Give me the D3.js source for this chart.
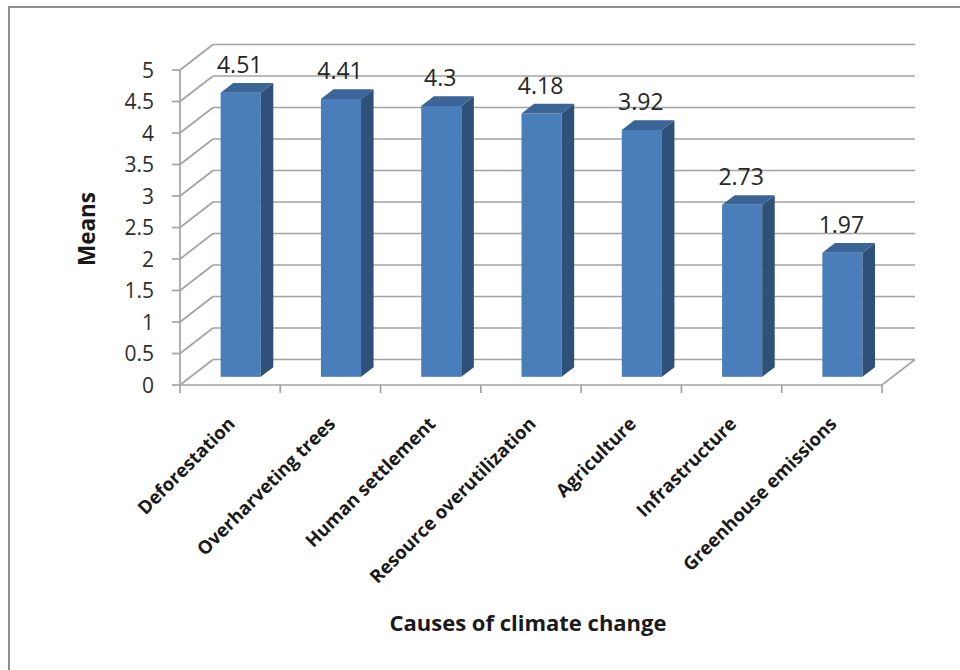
<!DOCTYPE html>
<html>
<head>
<meta charset="utf-8">
<script src="https://cdn.jsdelivr.net/npm/d3@7/dist/d3.min.js"></script>
<style>
  html, body { margin: 0; padding: 0; background: #fff; }
  svg { display: block; }
  text { font-family: "Open Sans", "DejaVu Sans", sans-serif; }
</style>
</head>
<body>
<svg id="chart" width="960" height="670"></svg>
<script>
// Mean scores for each cause of climate change
const categories = [
  "Deforestation",
  "Overharveting trees",
  "Human settlement",
  "Resource overutilization",
  "Agriculture",
  "Infrastructure",
  "Greenhouse emissions"
];
const means = [4.51, 4.41, 4.3, 4.18, 3.92, 2.73, 1.97];
const yTicks = [0, 0.5, 1, 1.5, 2, 2.5, 3, 3.5, 4, 4.5, 5];
const yTitle = "Means";
const xTitle = "Causes of climate change";

const svg = d3.select("#chart");

// Plot box (front plane) and 3D depth offset
const plot = { left: 180, right: 882, top: 70, bottom: 385 };
const depth = { dx: 33, dy: -25.5 };
// Bars sit inside the depth: front face at 32% of depth, 38% deep
const barFront = 0.32, barDepth = 0.38;

const y = d3.scaleLinear().domain([0, 5]).range([plot.bottom, plot.top]);
const x = d3.scaleBand()
  .domain(categories)
  .range([plot.left, plot.right])
  .paddingInner(0.6)
  .paddingOuter(0.3);
const step = x.step();

const gridColor = "#a3a3a3";

// Outer chart frame
svg.append("path")
  .attr("d", "M9,670 V7 H960")
  .attr("fill", "none")
  .attr("stroke", "#8f8f8f")
  .attr("stroke-width", 2);

const walls = svg.append("g").attr("fill", "none").attr("stroke", gridColor).attr("stroke-width", 1.7);

// Back wall gridlines
walls.selectAll("line.back")
  .data(yTicks)
  .join("line")
  .attr("class", "back")
  .attr("x1", plot.left + depth.dx)
  .attr("x2", plot.right + depth.dx)
  .attr("y1", d => y(d) + depth.dy)
  .attr("y2", d => y(d) + depth.dy);

// Side wall gridlines (diagonals)
walls.selectAll("line.side")
  .data(yTicks)
  .join("line")
  .attr("class", "side")
  .attr("x1", plot.left)
  .attr("x2", plot.left + depth.dx)
  .attr("y1", d => y(d))
  .attr("y2", d => y(d) + depth.dy);

// Floor: front edge and right edge
walls.append("path")
  .attr("d", `M${plot.left},${y(0)} H${plot.right} L${plot.right + depth.dx},${y(0) + depth.dy}`);

// Vertical value axis on the front
walls.append("line")
  .attr("x1", plot.left).attr("x2", plot.left)
  .attr("y1", y(0)).attr("y2", y(5));

// Value axis ticks
walls.selectAll("line.ytick")
  .data(yTicks)
  .join("line")
  .attr("class", "ytick")
  .attr("x1", plot.left - 8).attr("x2", plot.left)
  .attr("y1", d => y(d)).attr("y2", d => y(d));

// Category axis ticks at band boundaries
const boundaries = d3.range(categories.length + 1);
walls.selectAll("line.xtick")
  .data(boundaries)
  .join("line")
  .attr("class", "xtick")
  .attr("x1", i => plot.left + i * step)
  .attr("x2", i => plot.left + i * step)
  .attr("y1", y(0)).attr("y2", y(0) + 8);

// Value axis labels
svg.append("g").selectAll("text")
  .data(yTicks)
  .join("text")
  .attr("x", 154)
  .attr("y", d => y(d))
  .attr("dy", "0.36em")
  .attr("text-anchor", "end")
  .attr("font-size", 21)
  .attr("fill", "#2e2e2e")
  .text(d => String(d));

// 3D bars
const fx = depth.dx * barFront, fy = depth.dy * barFront;
const bx = depth.dx * barDepth, by = depth.dy * barDepth;
const bw = x.bandwidth();

const bars = svg.append("g").selectAll("g")
  .data(categories.map((c, i) => ({ c, v: means[i] })))
  .join("g");

// front face
bars.append("rect")
  .attr("x", d => x(d.c) + fx)
  .attr("y", d => y(d.v) + fy)
  .attr("width", bw)
  .attr("height", d => y(0) - y(d.v))
  .attr("fill", "#4a7ebb");

// side face
bars.append("path")
  .attr("d", d => {
    const x1 = x(d.c) + fx + bw, yt = y(d.v) + fy, yb = y(0) + fy;
    return `M${x1},${yt} L${x1 + bx},${yt + by} L${x1 + bx},${yb + by} L${x1},${yb} Z`;
  })
  .attr("fill", "#2f5078");

// top face
bars.append("path")
  .attr("d", d => {
    const x0 = x(d.c) + fx, yt = y(d.v) + fy;
    return `M${x0},${yt} L${x0 + bw},${yt} L${x0 + bw + bx},${yt + by} L${x0 + bx},${yt + by} Z`;
  })
  .attr("fill", "#3b6497");

// value labels above the bars
bars.append("text")
  .attr("x", d => x(d.c) + fx + bw / 2 - 1)
  .attr("y", d => y(d.v) + fy + by - 10)
  .attr("text-anchor", "middle")
  .attr("font-size", 23)
  .attr("fill", "#262626")
  .text(d => d.v);

// Category labels, rotated
svg.append("g").selectAll("text")
  .data(categories)
  .join("text")
  .attr("transform", c => `translate(${x(c) + bw / 2 + 6},${425}) rotate(-45)`)
  .attr("text-anchor", "end")
  .attr("font-size", 18.5)
  .attr("font-weight", "bold")
  .attr("fill", "#1a1a1a")
  .text(c => c);

// Axis titles
svg.append("text")
  .attr("transform", `translate(95,229) rotate(-90)`)
  .attr("text-anchor", "middle")
  .attr("font-size", 22.5)
  .attr("font-weight", "bold")
  .attr("fill", "#1a1a1a")
  .text(yTitle);

svg.append("text")
  .attr("x", 528)
  .attr("y", 631)
  .attr("text-anchor", "middle")
  .attr("font-size", 22)
  .attr("font-weight", "bold")
  .attr("fill", "#1a1a1a")
  .text(xTitle);
</script>
</body>
</html>
